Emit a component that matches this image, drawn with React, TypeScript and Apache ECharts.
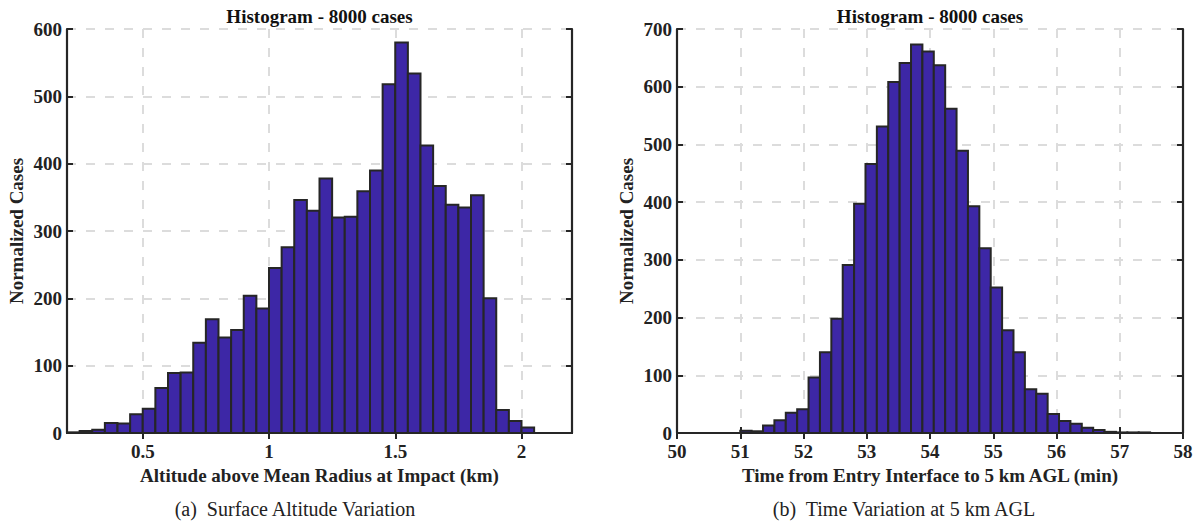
import React, { useEffect, useRef } from "react";
import * as echarts from "echarts";

const chartTitle = "Histogram - 8000 cases";

// Left: surface altitude histogram
const altBinStart = 0.2;
const altBinWidth = 0.05;
const altCounts = [
  1, 3, 5, 15, 14, 28, 36, 67, 89, 90,
  134, 169, 142, 153, 204, 185, 245, 276, 346, 330,
  378, 320, 321, 359, 390, 518, 580, 534, 427, 367,
  339, 335, 353, 200, 34, 18, 8,
];
const altXTicks = [0.5, 1, 1.5, 2];
const altXName = "Altitude above Mean Radius at Impact (km)";
const altCaption = "(a)  Surface Altitude Variation";

// Right: time histogram
const timeBinStart = 51.0;
const timeBinWidth = 0.18;
const timeCounts = [
  4, 3, 13, 22, 35, 41, 96, 140, 198, 291,
  397, 466, 531, 608, 641, 673, 661, 637, 562, 489,
  393, 320, 252, 178, 140, 76, 68, 33, 21, 16,
  9, 5, 2, 1, 1, 1,
];
const timeXName = "Time from Entry Interface to 5 km AGL (min)";
const timeCaption = "(b)  Time Variation at 5 km AGL";
const yName = "Normalized Cases";

const FONT = '"Liberation Serif", "DejaVu Serif", serif';
const BAR_FILL = "#3d27a6";
const DARK = "#262626";
const GRID = "#dcdcdc";

function bins(start: number, width: number, counts: number[]) {
  return counts.map((c, i) => [start + i * width, start + (i + 1) * width, c]);
}

export default function App() {
  const ref = useRef<HTMLDivElement>(null);
  useEffect(() => {
    if (!ref.current) return;
    const chart = echarts.init(ref.current, undefined, { renderer: "svg" });

    const labelStyle = {
      fontFamily: FONT,
      fontWeight: "bold" as const,
      fontSize: 19,
      color: "#222",
    };
    const axisLine = { show: true, lineStyle: { color: DARK, width: 2.2 } };
    const tick = { show: true, inside: true, length: 6, lineStyle: { color: DARK, width: 2 } };
    const split = { show: true, lineStyle: { color: GRID, width: 2, type: [9, 10] as any } };

    const grids = [
      { left: 67, right: 627, top: 29, bottom: 90 },
      { left: 677, right: 16, top: 29, bottom: 90 },
    ];

    const xAxes: any[] = [
      {
        type: "value", gridIndex: 0, position: "bottom", min: 0.2, max: 2.2,
        axisLine, axisTick: { ...tick, customValues: altXTicks },
        axisLabel: { ...labelStyle, margin: 9, customValues: altXTicks },
        splitLine: split,
        name: altXName, nameLocation: "middle", nameGap: 29, nameTextStyle: labelStyle,
      },
      {
        type: "value", gridIndex: 0, position: "top", min: 0.2, max: 2.2,
        axisLine, axisTick: { ...tick, customValues: altXTicks },
        axisLabel: { show: false, customValues: altXTicks }, splitLine: { show: false },
      },
      {
        type: "value", gridIndex: 1, position: "bottom", min: 50, max: 58, interval: 1,
        axisLine, axisTick: tick,
        axisLabel: { ...labelStyle, margin: 9 },
        splitLine: split,
        name: timeXName, nameLocation: "middle", nameGap: 29, nameTextStyle: labelStyle,
      },
      {
        type: "value", gridIndex: 1, position: "top", min: 50, max: 58, interval: 1,
        axisLine, axisTick: tick, axisLabel: { show: false }, splitLine: { show: false },
      },
    ];

    const yAxes: any[] = [
      {
        type: "value", gridIndex: 0, position: "left", min: 0, max: 600, interval: 100,
        axisLine, axisTick: tick, axisLabel: { ...labelStyle, margin: 5 }, splitLine: split,
        name: yName, nameLocation: "middle", nameGap: 41, nameTextStyle: labelStyle,
      },
      {
        type: "value", gridIndex: 0, position: "right", min: 0, max: 600, interval: 100,
        axisLine, axisTick: tick, axisLabel: { show: false }, splitLine: { show: false },
      },
      {
        type: "value", gridIndex: 1, position: "left", min: 0, max: 700, interval: 100,
        axisLine, axisTick: tick, axisLabel: { ...labelStyle, margin: 5 }, splitLine: split,
        name: yName, nameLocation: "middle", nameGap: 41, nameTextStyle: labelStyle,
      },
      {
        type: "value", gridIndex: 1, position: "right", min: 0, max: 700, interval: 100,
        axisLine, axisTick: tick, axisLabel: { show: false }, splitLine: { show: false },
      },
    ];

    const renderItem = (_params: any, api: any) => {
      const x0 = api.value(0);
      const x1 = api.value(1);
      const v = api.value(2);
      const p0 = api.coord([x0, v]);
      const p1 = api.coord([x1, 0]);
      return {
        type: "rect",
        shape: { x: p0[0], y: p0[1], width: p1[0] - p0[0], height: p1[1] - p0[1] },
        style: { fill: BAR_FILL, stroke: DARK, lineWidth: 2 },
      };
    };

    const graphicText = (text: string, x: number, y: number, bold: boolean, size: number) => ({
      type: "text",
      x,
      y,
      style: {
        text,
        fill: bold ? "#111" : "#222",
        fontFamily: FONT,
        fontWeight: bold ? "bold" : "normal",
        fontSize: size,
        align: "center",
        verticalAlign: "middle",
      },
    });

    chart.setOption({
      animation: false,
      grid: grids,
      xAxis: xAxes,
      yAxis: yAxes,
      series: [
        {
          type: "custom", xAxisIndex: 0, yAxisIndex: 0,
          data: bins(altBinStart, altBinWidth, altCounts),
          encode: { x: [0, 1], y: 2 }, renderItem, z: 5,
        },
        {
          type: "custom", xAxisIndex: 2, yAxisIndex: 2,
          data: bins(timeBinStart, timeBinWidth, timeCounts),
          encode: { x: [0, 1], y: 2 }, renderItem, z: 5,
        },
      ],
      graphic: [
        graphicText(chartTitle, 319.5, 16, true, 19),
        graphicText(chartTitle, 930, 16, true, 19),
        graphicText(altCaption, 295, 509, false, 20),
        graphicText(timeCaption, 904, 509, false, 20),
      ],
    });
    return () => chart.dispose();
  }, []);

  return (
    <div
      ref={ref}
      style={{ position: "fixed", left: 0, top: 0, width: 1199, height: 523, background: "#fff" }}
    />
  );
}
